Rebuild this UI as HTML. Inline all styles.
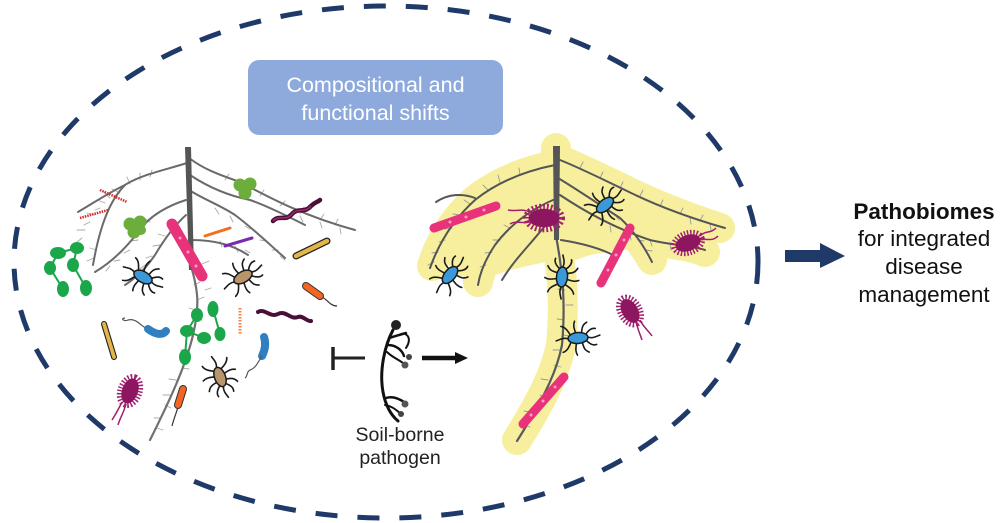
<!DOCTYPE html>
<html><head><meta charset="utf-8"><style>
html,body{margin:0;padding:0;background:#fff;}
svg{display:block;}
text{font-family:"Liberation Sans",Arial,sans-serif;}
</style></head><body>
<svg width="1000" height="523" viewBox="0 0 1000 523" xmlns="http://www.w3.org/2000/svg">
<defs>
  <g id="legbug">
    <g fill="none" stroke="#1a1a1a" stroke-width="1.6" stroke-linecap="round">
      <path d="M-7,-3 C-10,-9 -12,-12 -16,-13"/>
      <path d="M-2,-5 C-3,-10 -4,-13 -2,-17"/>
      <path d="M4,-5 C5,-11 6,-13 10,-15"/>
      <path d="M8,-3 C12,-8 15,-9 18,-8"/>
      <path d="M-7,3 C-10,9 -12,12 -16,13"/>
      <path d="M-2,5 C-3,10 -4,13 -2,17"/>
      <path d="M4,5 C5,11 6,13 10,15"/>
      <path d="M8,3 C12,8 15,9 18,8"/>
      <path d="M-10,0 C-15,-2 -18,0 -22,1"/>
      <path d="M10,0 C15,2 18,0 22,-1"/>
    </g>
  </g>
  <g id="fuzz">
    <ellipse cx="0" cy="0" rx="14" ry="9" fill="none" stroke="#a0206e" stroke-width="7" stroke-dasharray="1.4 1.6"/>
    <ellipse cx="0" cy="0" rx="13" ry="8" fill="#8e1660"/>
  </g>
</defs>

<!-- dashed ellipse -->
<ellipse cx="386" cy="262" rx="372" ry="256" fill="none" stroke="#1f3a68" stroke-width="5" stroke-dasharray="22 20"/>

<!-- title box -->
<rect x="248" y="60" width="255" height="75" rx="11" fill="#8eaadd"/>
<text x="375.5" y="92" font-size="21.5" fill="#fff" text-anchor="middle">Compositional and</text>
<text x="375.5" y="120" font-size="21.5" fill="#fff" text-anchor="middle">functional shifts</text>

<!-- ============ LEFT ROOT ============ -->
<g fill="none" stroke-linecap="round">
  <!-- root hairs -->
  <g stroke="#a8a8a8" stroke-width="0.9">
    <path d="M110,198 l-6,-6 M105,203 l-8,-3 M100,208 l-5,2 M95,215 l-8,-2 M90,222 l-6,3 M85,230 l-8,0 M82,238 l-5,4 M96,250 l-6,-2 M94,258 l-7,3"/>
    <path d="M130,184 l-3,-7 M140,180 l0,-7 M150,177 l2,-7 M120,193 l-8,-4"/>
    <path d="M150,222 l-6,-4 M145,230 l-7,-1 M138,240 l-7,1 M130,250 l-6,3 M120,260 l-6,1 M110,266 l-4,5"/>
    <path d="M165,236 l-7,-2 M160,245 l-7,1 M152,256 l-6,2 M145,265 l-5,4 M135,278 l-6,2"/>
    <path d="M225,180 l4,-6 M240,186 l5,-5 M260,196 l4,-6 M280,206 l5,-5 M300,214 l4,-7 M320,220 l4,-6 M335,225 l3,-6 M300,216 l3,6 M320,222 l2,6 M340,228 l1,6"/>
    <path d="M215,208 l4,6 M230,216 l3,6 M245,226 l5,3 M260,240 l6,1 M272,250 l6,0 M280,256 l5,4"/>
    <path d="M220,241 l2,6 M235,246 l3,6 M245,250 l5,3"/>
    <path d="M197,300 l7,-3 M196,310 l-7,-2 M195,320 l7,0 M193,332 l-7,-2 M188,350 l-7,0 M182,368 l7,1 M176,380 l-7,-1 M170,395 l-7,0 M165,405 l6,3 M160,418 l-6,0 M157,428 l6,2"/>
    <path d="M202,264 l7,-3 M200,272 l7,2 M200,282 l-6,3 M205,290 l6,-2"/>
  </g>
  <!-- branches -->
  <g stroke="#6a6a6a" stroke-width="2">
    <path d="M187,163 C165,170 140,175 125,185 C110,200 100,225 93,265"/>
    <path d="M125,185 C110,192 95,202 78,212"/>
    <path d="M186,200 C170,205 150,215 140,230 C128,245 115,260 95,272"/>
    <path d="M186,215 C175,225 165,238 155,255 C148,265 140,275 125,285"/>
    <path d="M189,158 C205,170 220,175 240,182 C265,195 300,215 355,230"/>
    <path d="M189,190 C205,200 220,205 235,215 C255,230 270,245 285,258"/>
    <path d="M192,240 C210,240 230,243 248,255"/>
    <path d="M190,175 C205,185 225,195 250,200 C265,205 285,215 305,225"/>
  </g>
  <path d="M191,266 C198,290 200,305 193,335 C186,365 170,400 150,440" stroke="#707070" stroke-width="2.2"/>
</g>
<path d="M185,147 L191,147 L194,270 L189,270 Z" fill="#555"/>

<!-- left microbes -->
<!-- clovers -->
<g fill="#6cad3b">
  <circle cx="130" cy="224" r="6.5"/><circle cx="140" cy="222" r="6.5"/><circle cx="134" cy="232" r="6.5"/><circle cx="141" cy="230" r="5"/>
  <circle cx="240" cy="185" r="6.5"/><circle cx="250" cy="184" r="6.5"/><circle cx="245" cy="193" r="6.5"/>
</g>
<!-- red hatched rods -->
<g stroke="#d42a2a" stroke-width="2.5" stroke-dasharray="1.5 1" fill="none">
  <path d="M100,190 L127,202"/>
  <path d="M80,218 L108,210"/>
</g>
<!-- orange & purple small rods -->
<path d="M205,236 L230,228" stroke="#f07020" stroke-width="3" stroke-linecap="round"/>
<path d="M225,246 L252,238" stroke="#7a2ab0" stroke-width="3" stroke-linecap="round"/>
<!-- pink rod -->
<path d="M172,224 L202,276" stroke="#e8327a" stroke-width="11" stroke-linecap="round"/>
<g fill="#f6a0c4"><circle cx="180" cy="238" r="1.5"/><circle cx="188" cy="252" r="1.5"/><circle cx="196" cy="266" r="1.5"/></g>
<!-- dark wavy -->
<path d="M273,221 C280,214 285,222 292,214 C298,207 304,214 311,206 C315,202 318,202 320,200" stroke="#4a0f38" stroke-width="4.5" fill="none" stroke-linecap="round"/>
<path d="M273,221 C280,214 285,222 292,214 C298,207 304,214 311,206" stroke="#9b2a6a" stroke-width="1.5" fill="none"/>
<!-- yellow chain -->
<path d="M296,256 L327,241" stroke="#222" stroke-width="7" stroke-linecap="round"/>
<path d="M296,256 L327,241" stroke="#e4b64a" stroke-width="4.5" stroke-linecap="round"/>
<!-- green chain left -->
<g fill="#1ba64a" stroke="#1ba64a" stroke-width="2">
  <ellipse cx="58" cy="253" rx="7" ry="5"/><ellipse cx="77" cy="248" rx="6" ry="5"/>
  <ellipse cx="50" cy="268" rx="5" ry="6"/><ellipse cx="73" cy="265" rx="5" ry="6"/>
  <ellipse cx="63" cy="289" rx="5" ry="7"/><ellipse cx="86" cy="288" rx="5" ry="7"/>
  <path d="M58,253 L77,248 M50,268 L58,253 M73,265 L77,248 M50,268 L63,289 M73,265 L86,288" fill="none"/>
</g>
<!-- legged bugs left -->
<g transform="translate(143,277) rotate(30)"><use href="#legbug"/><ellipse rx="10" ry="5.5" fill="#3a9ad9" stroke="#1a1a1a" stroke-width="1.5"/></g>
<g transform="translate(243,277) rotate(-30)"><use href="#legbug"/><ellipse rx="10" ry="5.5" fill="#b8956a" stroke="#1a1a1a" stroke-width="1.5"/></g>
<g transform="translate(220,377) rotate(70)"><use href="#legbug"/><ellipse rx="10" ry="5.5" fill="#b8956a" stroke="#1a1a1a" stroke-width="1.5"/></g>
<!-- orange rod flagellum -->
<path d="M322,297 C328,300 330,306 337,306" stroke="#333" stroke-width="1.2" fill="none"/>
<path d="M306,286 L320,296" stroke="#333" stroke-width="8" stroke-linecap="round"/>
<path d="M306,286 L320,296" stroke="#f26522" stroke-width="6" stroke-linecap="round"/>
<!-- orange dotted -->
<path d="M240,308 L240,335" stroke="#f5823a" stroke-width="3" stroke-dasharray="1.5 1.5"/>
<!-- wavy 2 -->
<path d="M258,312 C265,308 270,318 278,314 C286,310 290,320 298,317 C303,315 307,322 311,321" stroke="#4a0f38" stroke-width="4" fill="none" stroke-linecap="round"/>
<!-- yellow chain vertical -->
<path d="M104,324 L114,357" stroke="#222" stroke-width="6" stroke-linecap="round"/>
<path d="M104,324 L114,357" stroke="#e4b64a" stroke-width="3.8" stroke-linecap="round"/>
<!-- blue comma -->
<path d="M147,329 C140,325 136,318 128,320 C124,322 120,318 125,318" stroke="#555" stroke-width="1.2" fill="none"/>
<path d="M148,329 C155,334 162,336 166,331" stroke="#2f7fc1" stroke-width="8" stroke-linecap="round" fill="none"/>
<path d="M264,337 C266,343 265,350 262,356" stroke="#2f7fc1" stroke-width="8" stroke-linecap="round" fill="none"/>
<path d="M262,356 C258,362 256,368 250,370 C246,372 248,376 245,378" stroke="#555" stroke-width="1.2" fill="none"/>
<!-- green chain lower -->
<g fill="#1ba64a" stroke="#1ba64a" stroke-width="2">
  <ellipse cx="197" cy="315" rx="5" ry="6"/><ellipse cx="213" cy="309" rx="4.5" ry="7"/>
  <ellipse cx="187" cy="331" rx="6" ry="5"/><ellipse cx="204" cy="338" rx="6" ry="5"/>
  <ellipse cx="220" cy="334" rx="4.5" ry="6"/><ellipse cx="185" cy="357" rx="5" ry="7"/>
  <path d="M197,315 L187,331 M213,309 L220,334 M187,331 L204,338 M187,331 L185,357" fill="none"/>
</g>
<!-- magenta fuzzy left -->
<g transform="translate(130,391) rotate(-70)"><use href="#fuzz"/></g>
<path d="M122,402 C118,410 116,414 112,420 M126,404 C124,412 120,418 118,425" stroke="#a0206e" stroke-width="1.5" fill="none"/>
<!-- orange rod lower -->
<path d="M178,407 C176,414 174,418 172,426" stroke="#333" stroke-width="1.2" fill="none"/>
<path d="M183,389 L178,405" stroke="#333" stroke-width="8" stroke-linecap="round"/>
<path d="M183,389 L178,405" stroke="#f26522" stroke-width="6" stroke-linecap="round"/>

<!-- ============ RIGHT ROOT ============ -->
<!-- halo -->
<g fill="none" stroke="#f7ef9e" stroke-linecap="round" stroke-linejoin="round" stroke-width="30">
  <path d="M556,148 L556,240 C562,270 565,300 561,345 C556,370 545,395 517,440"/>
  <path d="M555,165 C530,170 500,180 475,200 C455,218 440,240 432,266"/>
  <path d="M553,200 C530,210 510,225 495,245 C485,260 480,272 478,282"/>
  <path d="M560,160 C580,168 600,178 625,190 C655,205 690,218 720,228"/>
  <path d="M558,178 C578,190 600,205 620,218 C635,232 645,248 652,260"/>
  <path d="M560,195 C590,215 620,230 650,240 C670,245 690,245 705,252"/>
</g>
<polygon points="547,150 587,165 630,185 660,202 705,215 700,245 660,250 620,250 590,255 570,262 545,262 510,270 480,280 455,275 440,250 460,215 490,190 520,175" fill="#f7ef9e"/>
<g fill="none" stroke-linecap="round">
  <g stroke="#9a9a9a" stroke-width="0.9">
    <path d="M470,204 l-6,-4 M460,215 l-7,-1 M452,228 l-7,1 M445,240 l-6,2 M438,252 l-6,1 M434,262 l-6,3"/>
    <path d="M500,182 l-2,-7 M520,175 l-1,-7 M488,190 l-5,-5"/>
    <path d="M510,228 l-6,-3 M500,240 l-7,0 M492,252 l-7,1 M486,265 l-6,2"/>
    <path d="M580,168 l3,-6 M600,178 l3,-6 M620,188 l3,-6 M640,196 l3,-6 M660,206 l3,-6 M680,214 l3,-6 M700,221 l3,-6 M690,218 l1,6 M710,224 l1,6"/>
    <path d="M600,206 l4,5 M615,215 l4,5 M628,226 l5,3 M638,240 l6,1 M646,250 l6,1"/>
    <path d="M610,226 l1,6 M630,234 l1,6 M650,240 l2,6 M670,244 l1,6"/>
    <path d="M565,275 l7,-2 M565,290 l-7,-1 M566,305 l7,0 M564,320 l-7,-1 M563,335 l7,1 M560,350 l-7,0 M554,365 l7,2 M548,380 l-7,-1 M540,395 l6,3 M530,412 l-6,-1 M524,425 l6,2"/>
  </g>
  <g stroke="#555" stroke-width="2">
    <path d="M555,165 C530,170 500,180 475,200 C455,218 440,240 430,268"/>
    <path d="M475,198 C462,193 448,194 436,202"/>
    <path d="M553,200 C530,210 510,225 495,245 C485,260 480,272 478,285"/>
    <path d="M551,218 C535,240 515,258 502,280"/>
    <path d="M560,160 C580,168 600,178 625,190 C655,205 690,218 725,228"/>
    <path d="M558,178 C578,190 600,205 620,218 C635,232 645,248 652,262"/>
    <path d="M561,240 C580,243 600,248 615,256"/>
    <path d="M560,195 C590,215 620,230 650,240 C670,245 690,245 705,250"/>
  </g>
  <path d="M556,236 C562,268 566,300 562,345 C557,370 546,395 517,441" stroke="#5a5a5a" stroke-width="2.2"/>
</g>
<path d="M553,146 L560,146 L559,240 L554,240 Z" fill="#555"/>

<!-- right microbes -->
<path d="M434,228 L496,206" stroke="#e8327a" stroke-width="9" stroke-linecap="round"/>
<g fill="#f6a0c4"><circle cx="450" cy="222" r="1.5"/><circle cx="466" cy="217" r="1.5"/><circle cx="484" cy="210" r="1.5"/></g>
<path d="M630,228 L601,283" stroke="#e8327a" stroke-width="9" stroke-linecap="round"/>
<g fill="#f6a0c4"><circle cx="624" cy="240" r="1.5"/><circle cx="616" cy="255" r="1.5"/><circle cx="608" cy="270" r="1.5"/></g>
<path d="M564,377 L523,424" stroke="#e8327a" stroke-width="9" stroke-linecap="round"/>
<g fill="#f6a0c4"><circle cx="555" cy="387" r="1.5"/><circle cx="543" cy="401" r="1.5"/><circle cx="531" cy="415" r="1.5"/></g>

<g transform="translate(544,218) scale(1.2,1.15)"><use href="#fuzz"/></g>
<path d="M530,212 C522,208 515,212 508,210 M530,222 C522,224 516,220 510,224" stroke="#a0206e" stroke-width="1.5" fill="none"/>
<g transform="translate(688,243) rotate(-20)"><use href="#fuzz"/></g>
<path d="M700,236 C706,230 710,234 716,228 M700,240 C708,238 712,242 718,236" stroke="#a0206e" stroke-width="1.5" fill="none"/>
<g transform="translate(630,311) rotate(60)"><use href="#fuzz"/></g>
<path d="M636,322 C638,330 640,334 642,340 M640,320 C644,328 648,330 652,336" stroke="#a0206e" stroke-width="1.5" fill="none"/>

<g transform="translate(605,205) rotate(-40)"><use href="#legbug"/><ellipse rx="10" ry="5.5" fill="#3a9ad9" stroke="#1a1a1a" stroke-width="1.5"/></g>
<g transform="translate(450,275) rotate(-50)"><use href="#legbug"/><ellipse rx="10" ry="5.5" fill="#3a9ad9" stroke="#1a1a1a" stroke-width="1.5"/></g>
<g transform="translate(562,277) rotate(-85)"><use href="#legbug"/><ellipse rx="10" ry="5.5" fill="#3a9ad9" stroke="#1a1a1a" stroke-width="1.5"/></g>
<g transform="translate(578,338) rotate(-5)"><use href="#legbug"/><ellipse rx="10" ry="5.5" fill="#3a9ad9" stroke="#1a1a1a" stroke-width="1.5"/></g>

<!-- ============ PATHOGEN ============ -->
<g fill="none" stroke="#111" stroke-linecap="round">
  <path d="M393,330 C385,345 379,370 383,392 C386,408 392,416 398,421" stroke-width="3"/>
  <path d="M389,338 C396,336 402,334 406,333" stroke-width="2.5"/>
  <path d="M388,345 C396,345 402,350 404,356" stroke-width="2.5"/>
  <path d="M387,352 C393,358 400,360 404,364" stroke-width="2"/>
  <path d="M405,334 C410,336 410,342 406,348" stroke-width="2"/>
  <path d="M386,398 C392,396 398,398 404,402" stroke-width="2.5"/>
  <path d="M385,405 C392,406 396,410 400,413" stroke-width="2"/>
</g>
<circle cx="396" cy="325" r="5" fill="#222"/>
<circle cx="405" cy="365" r="3.5" fill="#555"/>
<circle cx="409" cy="357" r="3" fill="#444"/>
<circle cx="405" cy="404" r="3.5" fill="#555"/>
<circle cx="401" cy="414" r="3" fill="#444"/>

<!-- inhibition -->
<path d="M333,347 L333,370" stroke="#222" stroke-width="3.5"/>
<path d="M333,358 L365,358" stroke="#222" stroke-width="3"/>
<!-- arrow -->
<path d="M422,358 L457,358" stroke="#111" stroke-width="4.5"/>
<polygon points="455,352 468,358 455,364" fill="#111"/>

<text x="400" y="441" font-size="19.5" fill="#222" text-anchor="middle">Soil-borne</text>
<text x="400" y="464" font-size="19.5" fill="#222" text-anchor="middle">pathogen</text>

<!-- right arrow -->
<rect x="785" y="250" width="37" height="12" fill="#1f3a68"/>
<polygon points="820,243 845,256 820,268" fill="#1f3a68"/>

<text x="924" y="219" font-size="22.5" font-weight="bold" fill="#111" text-anchor="middle">Pathobiomes</text>
<text x="924" y="246" font-size="22.5" fill="#111" text-anchor="middle">for integrated</text>
<text x="924" y="274" font-size="22.5" fill="#111" text-anchor="middle">disease</text>
<text x="924" y="302" font-size="22.5" fill="#111" text-anchor="middle">management</text>
</svg>
</body></html>
